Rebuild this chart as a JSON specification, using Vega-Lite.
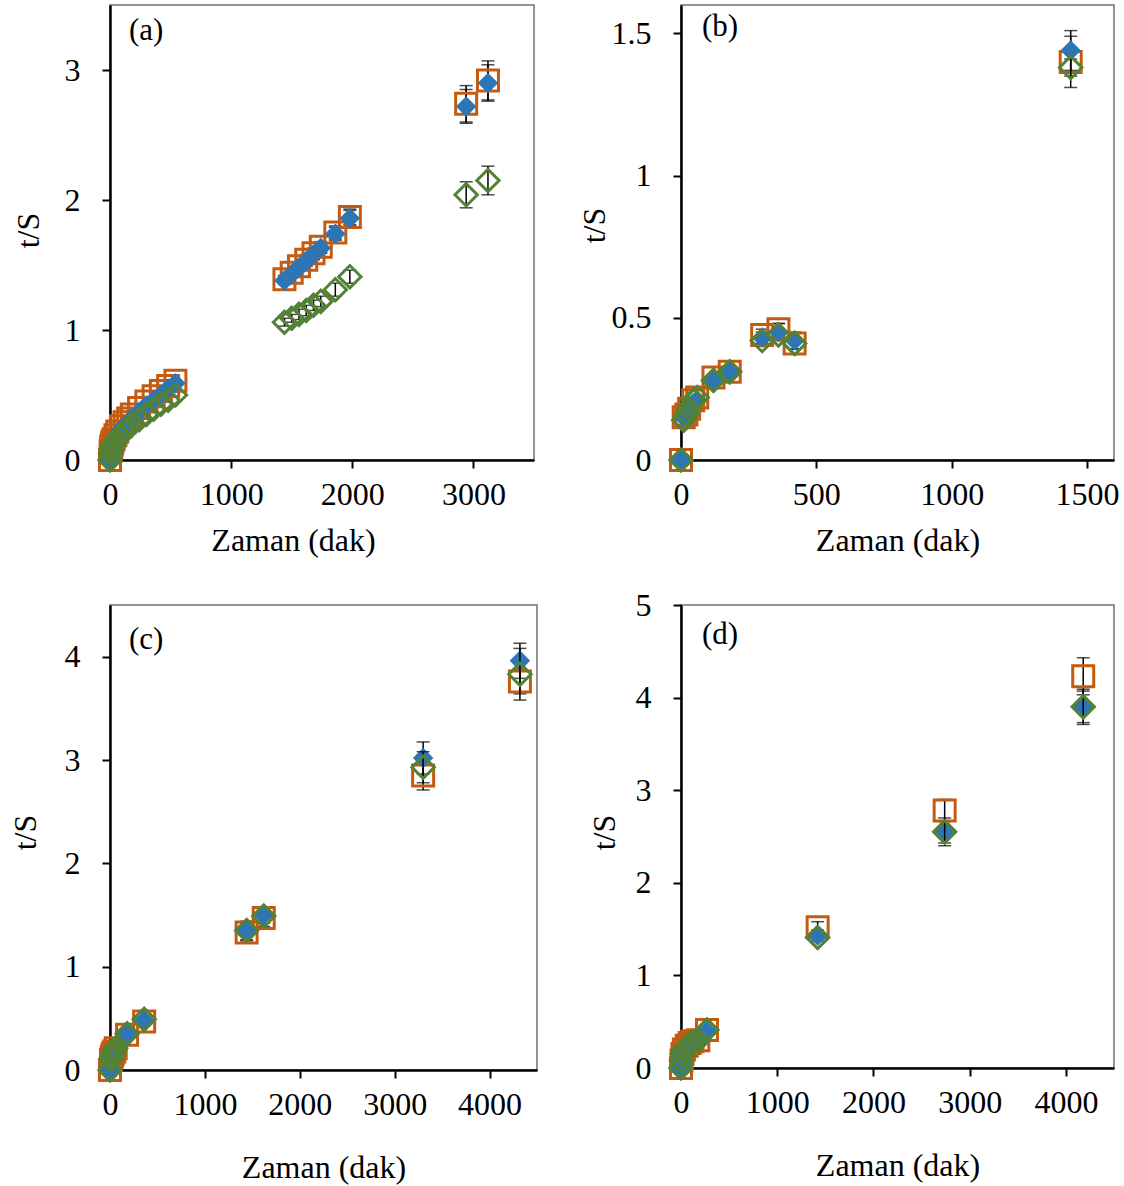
{
  "$schema": "https://vega.github.io/schema/vega-lite/v6.json",
  "background": "white",
  "padding": {"left": 8, "top": 4, "right": 5, "bottom": 5},
  "config": {
    "font": "Liberation Serif",
    "view": {"stroke": "#707070", "strokeWidth": 1.5},
    "axis": {
      "grid": false, "labelFont": "Liberation Serif", "titleFont": "Liberation Serif",
      "labelFontSize": 32, "titleFontSize": 32, "titleFontWeight": "normal",
      "labelColor": "black", "titleColor": "black", "domainColor": "black", "domainWidth": 2.5,
      "tickColor": "black", "tickWidth": 2, "tickSize": 8, "labelFlush": false, "labelOverlap": false,
      "titleBaseline": "middle", "format": "~r"
    },
    "axisX": {"labelPadding": 11},
    "axisY": {"labelPadding": 22},
    "title": {"font": "Liberation Serif", "fontSize": 31, "fontWeight": "normal", "color": "black", "anchor": "start", "frame": "group", "baseline": "top", "offset": 0}
  },
  "datasets": {
    "a": [
      {"t":0,"y":0,"e":0,"s":"o"},{"t":5,"y":0.07,"e":0,"s":"o"},{"t":10,"y":0.1,"e":0,"s":"o"},{"t":15,"y":0.12,"e":0,"s":"o"},{"t":20,"y":0.14,"e":0,"s":"o"},{"t":30,"y":0.16,"e":0,"s":"o"},{"t":45,"y":0.19,"e":0,"s":"o"},{"t":60,"y":0.22,"e":0,"s":"o"},{"t":90,"y":0.26,"e":0,"s":"o"},{"t":120,"y":0.29,"e":0,"s":"o"},{"t":150,"y":0.32,"e":0,"s":"o"},{"t":180,"y":0.35,"e":0,"s":"o"},{"t":240,"y":0.4,"e":0,"s":"o"},{"t":300,"y":0.45,"e":0,"s":"o"},{"t":360,"y":0.49,"e":0,"s":"o"},{"t":420,"y":0.53,"e":0,"s":"o"},{"t":480,"y":0.57,"e":0,"s":"o"},{"t":540,"y":0.61,"e":0,"s":"o"},
      {"t":1440,"y":1.39,"e":0.03,"s":"o"},{"t":1500,"y":1.44,"e":0.03,"s":"o"},{"t":1560,"y":1.49,"e":0.03,"s":"o"},{"t":1620,"y":1.54,"e":0.04,"s":"o"},{"t":1680,"y":1.59,"e":0.04,"s":"o"},{"t":1740,"y":1.64,"e":0.04,"s":"o"},{"t":1860,"y":1.75,"e":0.05,"s":"o"},{"t":1980,"y":1.87,"e":0.06,"s":"o"},
      {"t":2940,"y":2.74,"e":0.14,"s":"o"},{"t":3120,"y":2.92,"e":0.15,"s":"o"},
      {"t":0,"y":0,"e":0,"s":"b"},{"t":5,"y":0.05,"e":0,"s":"b"},{"t":10,"y":0.08,"e":0,"s":"b"},{"t":15,"y":0.1,"e":0,"s":"b"},{"t":20,"y":0.11,"e":0,"s":"b"},{"t":30,"y":0.13,"e":0,"s":"b"},{"t":45,"y":0.16,"e":0,"s":"b"},{"t":60,"y":0.19,"e":0,"s":"b"},{"t":90,"y":0.23,"e":0,"s":"b"},{"t":120,"y":0.26,"e":0,"s":"b"},{"t":150,"y":0.29,"e":0,"s":"b"},{"t":180,"y":0.32,"e":0,"s":"b"},{"t":240,"y":0.37,"e":0,"s":"b"},{"t":300,"y":0.42,"e":0,"s":"b"},{"t":360,"y":0.46,"e":0,"s":"b"},{"t":420,"y":0.5,"e":0,"s":"b"},{"t":480,"y":0.55,"e":0,"s":"b"},{"t":540,"y":0.59,"e":0,"s":"b"},
      {"t":1440,"y":1.38,"e":0.03,"s":"b"},{"t":1500,"y":1.43,"e":0.03,"s":"b"},{"t":1560,"y":1.48,"e":0.03,"s":"b"},{"t":1620,"y":1.53,"e":0.04,"s":"b"},{"t":1680,"y":1.58,"e":0.04,"s":"b"},{"t":1740,"y":1.63,"e":0.04,"s":"b"},{"t":1860,"y":1.74,"e":0.05,"s":"b"},{"t":1980,"y":1.86,"e":0.06,"s":"b"},
      {"t":2940,"y":2.72,"e":0.13,"s":"b"},{"t":3120,"y":2.9,"e":0.14,"s":"b"},
      {"t":0,"y":0,"e":0,"s":"g"},{"t":5,"y":0.05,"e":0,"s":"g"},{"t":10,"y":0.07,"e":0,"s":"g"},{"t":15,"y":0.09,"e":0,"s":"g"},{"t":20,"y":0.1,"e":0,"s":"g"},{"t":30,"y":0.12,"e":0,"s":"g"},{"t":45,"y":0.14,"e":0,"s":"g"},{"t":60,"y":0.16,"e":0,"s":"g"},{"t":90,"y":0.19,"e":0,"s":"g"},{"t":120,"y":0.22,"e":0,"s":"g"},{"t":150,"y":0.25,"e":0,"s":"g"},{"t":180,"y":0.27,"e":0,"s":"g"},{"t":240,"y":0.31,"e":0,"s":"g"},{"t":300,"y":0.35,"e":0,"s":"g"},{"t":360,"y":0.39,"e":0,"s":"g"},{"t":420,"y":0.43,"e":0,"s":"g"},{"t":480,"y":0.46,"e":0,"s":"g"},{"t":540,"y":0.5,"e":0,"s":"g"},
      {"t":1440,"y":1.06,"e":0.03,"s":"g"},{"t":1500,"y":1.09,"e":0.03,"s":"g"},{"t":1560,"y":1.12,"e":0.04,"s":"g"},{"t":1620,"y":1.15,"e":0.04,"s":"g"},{"t":1680,"y":1.19,"e":0.04,"s":"g"},{"t":1740,"y":1.22,"e":0.04,"s":"g"},{"t":1860,"y":1.31,"e":0.05,"s":"g"},{"t":1980,"y":1.41,"e":0.05,"s":"g"},
      {"t":2940,"y":2.04,"e":0.1,"s":"g"},{"t":3120,"y":2.15,"e":0.11,"s":"g"}
    ],
    "b": [
      {"t":0,"y":0,"e":0,"s":"o"},{"t":10,"y":0.15,"e":0,"s":"o"},{"t":20,"y":0.16,"e":0,"s":"o"},{"t":30,"y":0.18,"e":0,"s":"o"},{"t":45,"y":0.21,"e":0,"s":"o"},{"t":60,"y":0.22,"e":0,"s":"o"},{"t":120,"y":0.29,"e":0,"s":"o"},{"t":180,"y":0.31,"e":0,"s":"o"},{"t":300,"y":0.44,"e":0.02,"s":"o"},{"t":360,"y":0.46,"e":0.02,"s":"o"},{"t":420,"y":0.41,"e":0.02,"s":"o"},{"t":1440,"y":1.4,"e":0.09,"s":"o"},
      {"t":0,"y":0,"e":0,"s":"b"},{"t":10,"y":0.15,"e":0,"s":"b"},{"t":20,"y":0.17,"e":0,"s":"b"},{"t":30,"y":0.19,"e":0,"s":"b"},{"t":45,"y":0.2,"e":0,"s":"b"},{"t":60,"y":0.21,"e":0,"s":"b"},{"t":120,"y":0.28,"e":0.02,"s":"b"},{"t":180,"y":0.31,"e":0,"s":"b"},{"t":300,"y":0.43,"e":0.02,"s":"b"},{"t":360,"y":0.45,"e":0.03,"s":"b"},{"t":420,"y":0.42,"e":0.03,"s":"b"},{"t":1440,"y":1.44,"e":0.07,"s":"b"},
      {"t":0,"y":0,"e":0,"s":"g"},{"t":10,"y":0.14,"e":0,"s":"g"},{"t":20,"y":0.16,"e":0,"s":"g"},{"t":30,"y":0.18,"e":0,"s":"g"},{"t":45,"y":0.21,"e":0,"s":"g"},{"t":60,"y":0.22,"e":0,"s":"g"},{"t":120,"y":0.28,"e":0,"s":"g"},{"t":180,"y":0.31,"e":0,"s":"g"},{"t":300,"y":0.42,"e":0,"s":"g"},{"t":360,"y":0.44,"e":0,"s":"g"},{"t":420,"y":0.41,"e":0,"s":"g"},{"t":1440,"y":1.38,"e":0.03,"s":"g"}
    ],
    "c": [
      {"t":0,"y":0,"e":0,"s":"o"},{"t":10,"y":0.1,"e":0,"s":"o"},{"t":20,"y":0.13,"e":0,"s":"o"},{"t":30,"y":0.16,"e":0,"s":"o"},{"t":45,"y":0.18,"e":0,"s":"o"},{"t":60,"y":0.21,"e":0,"s":"o"},{"t":180,"y":0.34,"e":0,"s":"o"},{"t":360,"y":0.47,"e":0,"s":"o"},{"t":1440,"y":1.33,"e":0.08,"s":"o"},{"t":1620,"y":1.47,"e":0.08,"s":"o"},{"t":3300,"y":2.85,"e":0.14,"s":"o"},{"t":4320,"y":3.76,"e":0.12,"s":"o"},
      {"t":0,"y":0,"e":0,"s":"b"},{"t":10,"y":0.1,"e":0,"s":"b"},{"t":20,"y":0.14,"e":0,"s":"b"},{"t":30,"y":0.17,"e":0.02,"s":"b"},{"t":45,"y":0.19,"e":0.02,"s":"b"},{"t":60,"y":0.22,"e":0,"s":"b"},{"t":180,"y":0.35,"e":0.03,"s":"b"},{"t":360,"y":0.48,"e":0.03,"s":"b"},{"t":1440,"y":1.35,"e":0.09,"s":"b"},{"t":1620,"y":1.5,"e":0.08,"s":"b"},{"t":3300,"y":3.02,"e":0.155,"s":"b"},{"t":4320,"y":3.96,"e":0.17,"s":"b"},
      {"t":0,"y":0,"e":0,"s":"g"},{"t":10,"y":0.1,"e":0,"s":"g"},{"t":20,"y":0.13,"e":0,"s":"g"},{"t":30,"y":0.16,"e":0,"s":"g"},{"t":45,"y":0.19,"e":0,"s":"g"},{"t":60,"y":0.21,"e":0,"s":"g"},{"t":180,"y":0.35,"e":0,"s":"g"},{"t":360,"y":0.49,"e":0,"s":"g"},{"t":1440,"y":1.35,"e":0,"s":"g"},{"t":1620,"y":1.49,"e":0,"s":"g"},{"t":3300,"y":2.93,"e":0.15,"s":"g"},{"t":4320,"y":3.83,"e":0.25,"s":"g"}
    ],
    "d": [
      {"t":0,"y":0,"e":0,"s":"o"},{"t":5,"y":0.08,"e":0,"s":"o"},{"t":15,"y":0.15,"e":0,"s":"o"},{"t":30,"y":0.2,"e":0,"s":"o"},{"t":60,"y":0.24,"e":0,"s":"o"},{"t":90,"y":0.27,"e":0,"s":"o"},{"t":120,"y":0.29,"e":0,"s":"o"},{"t":180,"y":0.3,"e":0,"s":"o"},{"t":270,"y":0.41,"e":0,"s":"o"},{"t":1420,"y":1.52,"e":0.06,"s":"o"},{"t":2740,"y":2.78,"e":0.12,"s":"o"},{"t":4180,"y":4.23,"e":0.2,"s":"o"},
      {"t":0,"y":0,"e":0,"s":"b"},{"t":5,"y":0.08,"e":0,"s":"b"},{"t":15,"y":0.15,"e":0,"s":"b"},{"t":30,"y":0.2,"e":0.03,"s":"b"},{"t":60,"y":0.23,"e":0.03,"s":"b"},{"t":90,"y":0.26,"e":0,"s":"b"},{"t":120,"y":0.28,"e":0,"s":"b"},{"t":180,"y":0.3,"e":0,"s":"b"},{"t":270,"y":0.4,"e":0.03,"s":"b"},{"t":1420,"y":1.43,"e":0.06,"s":"b"},{"t":2740,"y":2.55,"e":0.12,"s":"b"},{"t":4180,"y":3.9,"e":0.17,"s":"b"},
      {"t":0,"y":0,"e":0,"s":"g"},{"t":5,"y":0.08,"e":0,"s":"g"},{"t":15,"y":0.15,"e":0,"s":"g"},{"t":30,"y":0.2,"e":0,"s":"g"},{"t":60,"y":0.23,"e":0,"s":"g"},{"t":90,"y":0.26,"e":0,"s":"g"},{"t":120,"y":0.28,"e":0,"s":"g"},{"t":180,"y":0.3,"e":0,"s":"g"},{"t":270,"y":0.41,"e":0,"s":"g"},{"t":1420,"y":1.41,"e":0,"s":"g"},{"t":2740,"y":2.55,"e":0.15,"s":"g"},{"t":4180,"y":3.9,"e":0.19,"s":"g"}
    ]
  },
  "vconcat": [
    {
      "hconcat": [
        {
          "width": 424, "height": 455,
          "data": {"name": "a"},
          "title": {"text": "(a)", "dx": 19, "dy": 46},
          "encoding": {
            "x": {"field": "t", "type": "quantitative", "scale": {"domain": [0, 3500], "nice": false, "zero": false}, "axis": {"values": [0, 1000, 2000, 3000], "title": "Zaman (dak)", "titleX": 183, "titleY": 80}},
            "y": {"field": "y", "type": "quantitative", "scale": {"domain": [0, 3.5], "nice": false}, "axis": {"values": [0, 1, 2, 3], "title": "t/S", "titleX": -82, "titleY": 225}}
          },
          "layer": [
            {"transform": [{"filter": "datum.s == 'o' && datum.e > 0"}], "mark": {"type": "errorbar", "color": "black", "thickness": 1.5, "ticks": {"size": 13}}, "encoding": {"yError": {"field": "e"}}},
            {"transform": [{"filter": "datum.s == 'b' && datum.e > 0"}], "mark": {"type": "errorbar", "color": "black", "thickness": 1.5, "ticks": {"size": 13}}, "encoding": {"yError": {"field": "e"}}},
            {"transform": [{"filter": "datum.s == 'o'"}], "mark": {"type": "point", "shape": "square", "size": 441, "filled": false, "color": "#C55A11", "strokeWidth": 3, "opacity": 1}},
            {"transform": [{"filter": "datum.s == 'b'"}], "mark": {"type": "point", "shape": "diamond", "size": 420, "filled": true, "color": "#2E75B6", "opacity": 1}},
            {"transform": [{"filter": "datum.s == 'g' && datum.e > 0"}], "mark": {"type": "errorbar", "color": "black", "thickness": 1.5, "ticks": {"size": 13}}, "encoding": {"yError": {"field": "e"}}},
            {"transform": [{"filter": "datum.s == 'g'"}], "mark": {"type": "point", "shape": "diamond", "size": 500, "filled": false, "color": "#548235", "strokeWidth": 3, "opacity": 1}}
          ]
        },
        {
          "width": 433, "height": 455,
          "data": {"name": "b"},
          "title": {"text": "(b)", "dx": 21, "dy": 42},
          "encoding": {
            "x": {"field": "t", "type": "quantitative", "scale": {"domain": [0, 1600], "nice": false, "zero": false}, "axis": {"values": [0, 500, 1000, 1500], "title": "Zaman (dak)", "titleY": 80}},
            "y": {"field": "y", "type": "quantitative", "scale": {"domain": [0, 1.6], "nice": false}, "axis": {"values": [0, 0.5, 1, 1.5], "title": "t/S", "titleX": -87, "titleY": 220}}
          },
          "layer": [
            {"transform": [{"filter": "datum.s == 'o' && datum.e > 0"}], "mark": {"type": "errorbar", "color": "black", "thickness": 1.5, "ticks": {"size": 13}}, "encoding": {"yError": {"field": "e"}}},
            {"transform": [{"filter": "datum.s == 'b' && datum.e > 0"}], "mark": {"type": "errorbar", "color": "black", "thickness": 1.5, "ticks": {"size": 13}}, "encoding": {"yError": {"field": "e"}}},
            {"transform": [{"filter": "datum.s == 'o'"}], "mark": {"type": "point", "shape": "square", "size": 441, "filled": false, "color": "#C55A11", "strokeWidth": 3, "opacity": 1}},
            {"transform": [{"filter": "datum.s == 'b'"}], "mark": {"type": "point", "shape": "diamond", "size": 420, "filled": true, "color": "#2E75B6", "opacity": 1}},
            {"transform": [{"filter": "datum.s == 'g' && datum.e > 0"}], "mark": {"type": "errorbar", "color": "black", "thickness": 1.5, "ticks": {"size": 13}}, "encoding": {"yError": {"field": "e"}}},
            {"transform": [{"filter": "datum.s == 'g'"}], "mark": {"type": "point", "shape": "diamond", "size": 500, "filled": false, "color": "#548235", "strokeWidth": 3, "opacity": 1}}
          ]
        }
      ],
      "spacing": 147, "bounds": "flush"
    },
    {
      "hconcat": [
        {
          "width": 427, "height": 465,
          "data": {"name": "c"},
          "title": {"text": "(c)", "dx": 19, "dy": 55},
          "encoding": {
            "x": {"field": "t", "type": "quantitative", "scale": {"domain": [0, 4500], "nice": false, "zero": false}, "axis": {"values": [0, 1000, 2000, 3000, 4000], "title": "Zaman (dak)", "titleY": 97}},
            "y": {"field": "y", "type": "quantitative", "scale": {"domain": [0, 4.5], "nice": false}, "axis": {"values": [0, 1, 2, 3, 4], "title": "t/S", "titleX": -85, "titleY": 227}}
          },
          "layer": [
            {"transform": [{"filter": "datum.s == 'o' && datum.e > 0"}], "mark": {"type": "errorbar", "color": "black", "thickness": 1.5, "ticks": {"size": 13}}, "encoding": {"yError": {"field": "e"}}},
            {"transform": [{"filter": "datum.s == 'b' && datum.e > 0"}], "mark": {"type": "errorbar", "color": "black", "thickness": 1.5, "ticks": {"size": 13}}, "encoding": {"yError": {"field": "e"}}},
            {"transform": [{"filter": "datum.s == 'o'"}], "mark": {"type": "point", "shape": "square", "size": 441, "filled": false, "color": "#C55A11", "strokeWidth": 3, "opacity": 1}},
            {"transform": [{"filter": "datum.s == 'b'"}], "mark": {"type": "point", "shape": "diamond", "size": 420, "filled": true, "color": "#2E75B6", "opacity": 1}},
            {"transform": [{"filter": "datum.s == 'g' && datum.e > 0"}], "mark": {"type": "errorbar", "color": "black", "thickness": 1.5, "ticks": {"size": 13}}, "encoding": {"yError": {"field": "e"}}},
            {"transform": [{"filter": "datum.s == 'g'"}], "mark": {"type": "point", "shape": "diamond", "size": 500, "filled": false, "color": "#548235", "strokeWidth": 3, "opacity": 1}}
          ]
        },
        {
          "width": 433, "height": 463,
          "data": {"name": "d"},
          "title": {"text": "(d)", "dx": 21, "dy": 66},
          "encoding": {
            "x": {"field": "t", "type": "quantitative", "scale": {"domain": [0, 4500], "nice": false, "zero": false}, "axis": {"values": [0, 1000, 2000, 3000, 4000], "title": "Zaman (dak)", "titleY": 97}},
            "y": {"field": "y", "type": "quantitative", "scale": {"domain": [0, 5], "nice": false}, "axis": {"values": [0, 1, 2, 3, 4, 5], "title": "t/S", "titleX": -77, "titleY": 227}}
          },
          "layer": [
            {"transform": [{"filter": "datum.s == 'o' && datum.e > 0"}], "mark": {"type": "errorbar", "color": "black", "thickness": 1.5, "ticks": {"size": 13}}, "encoding": {"yError": {"field": "e"}}},
            {"transform": [{"filter": "datum.s == 'b' && datum.e > 0"}], "mark": {"type": "errorbar", "color": "black", "thickness": 1.5, "ticks": {"size": 13}}, "encoding": {"yError": {"field": "e"}}},
            {"transform": [{"filter": "datum.s == 'o'"}], "mark": {"type": "point", "shape": "square", "size": 441, "filled": false, "color": "#C55A11", "strokeWidth": 3, "opacity": 1}},
            {"transform": [{"filter": "datum.s == 'b'"}], "mark": {"type": "point", "shape": "diamond", "size": 420, "filled": true, "color": "#2E75B6", "opacity": 1}},
            {"transform": [{"filter": "datum.s == 'g' && datum.e > 0"}], "mark": {"type": "errorbar", "color": "black", "thickness": 1.5, "ticks": {"size": 13}}, "encoding": {"yError": {"field": "e"}}},
            {"transform": [{"filter": "datum.s == 'g'"}], "mark": {"type": "point", "shape": "diamond", "size": 500, "filled": false, "color": "#548235", "strokeWidth": 3, "opacity": 1}}
          ]
        }
      ],
      "spacing": 144, "bounds": "flush"
    }
  ],
  "spacing": 31
}
